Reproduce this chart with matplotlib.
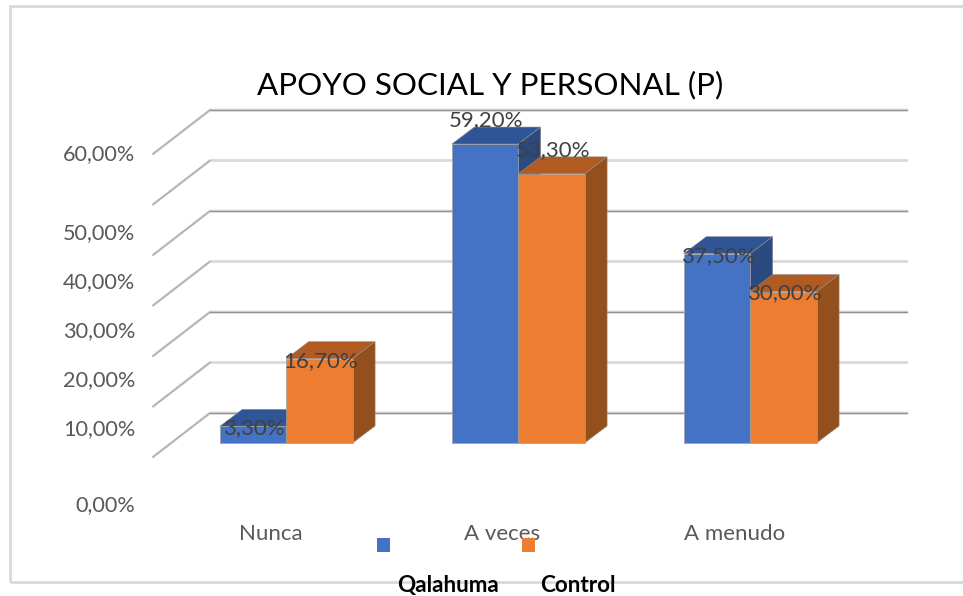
import matplotlib
matplotlib.use('Agg')
import matplotlib.pyplot as plt
from matplotlib.patches import Polygon, Rectangle

categories = ['Nunca', 'A veces', 'A menudo']
qalahuma = [3.3, 59.2, 37.5]
control = [16.7, 53.3, 30.0]
grid_values = [0, 10, 20, 30, 40, 50, 60]
tick_labels = ['0,00%', '10,00%', '20,00%', '30,00%', '40,00%', '50,00%', '60,00%']

W, H = 963, 596
PX_X = 232.0   # pixels per category
PX_Y = 5.05    # pixels per percent
X0, Y0 = 286.2, 443.0

plt.rcParams['font.family'] = ['Lato', 'DejaVu Sans']
fig = plt.figure(figsize=(W / 100, H / 100), dpi=100)
ax = fig.add_axes([0, 0, 1, 1])
ax.set_xlim(-X0 / PX_X, (W - X0) / PX_X)
ax.set_ylim(-(H - Y0) / PX_Y, Y0 / PX_Y)
ax.axis('off')


def px(x):
    return (x - X0) / PX_X


def py(y):
    return (Y0 - y) / PX_Y


# chart frame
ax.add_patch(Rectangle((px(10), py(582)), px(1100) - px(10), py(6) - py(582),
                       fill=False, ec='#d9d9d9', lw=2, zorder=1))

# gridlines on the back wall and side wall
wall_x, side_x = px(210), px(153)
wall_dy, side_dy = 30 / PX_Y, -14 / PX_Y
right_x = px(907)
for i, v in enumerate(grid_values):
    xs = [side_x, wall_x, right_x]
    ys = [v + side_dy, v + wall_dy, v + wall_dy]
    ax.plot(xs, ys, color='#d9d9d9', lw=2.0, zorder=2, solid_capstyle='round')
    if i % 2 == 0:
        ax.plot(xs[1:], ys[1:], color='#929292', lw=1.0, zorder=3)
    ax.plot(xs[:2], ys[:2], color='#a6a6a6', lw=0.8, zorder=3)

# 3D bars
bar_w = 66.4 / PX_X
depth_x, depth_y = 22.5 / PX_X, 17 / PX_Y
series = [(qalahuma, -bar_w, '#4472c4', '#2f5597', '#2a4a80'),
          (control, 0, '#ed7d31', '#b15a22', '#93501c')]
for vals, off, front, top, side in series:
    for i, v in enumerate(vals):
        x = i + off
        ax.bar(x, v, width=bar_w, align='edge', color=front, edgecolor='#a0a0a0',
               linewidth=0.5, zorder=5 + i)
        ax.add_patch(Polygon([(x, v), (x + depth_x, v + depth_y),
                              (x + bar_w + depth_x, v + depth_y), (x + bar_w, v)],
                             fc=top, ec='#909090', lw=0.4, zorder=4 + i))
        ax.add_patch(Polygon([(x + bar_w, 0), (x + bar_w + depth_x, depth_y),
                              (x + bar_w + depth_x, v + depth_y), (x + bar_w, v)],
                             fc=side, ec='#909090', lw=0.4, zorder=4 + i))

# data labels
for vals, off, raised in [(qalahuma, -bar_w / 2, [0, 1, 0]), (control, bar_w / 2, [0, 1, 0])]:
    for i, v in enumerate(vals):
        shift = 24 if raised[i] else -2
        ax.text(i + off + 0.005, v + shift / PX_Y, f'{v:.2f}%'.replace('.', ','),
                ha='center', va='center', fontsize=16, color='#404040', zorder=10)

# value axis labels sit unevenly in the reference
label_y = [505, 429, 380, 331, 282, 233, 154]
for txt, y in zip(tick_labels, label_y):
    ax.text(px(135), py(y), txt, ha='right', va='center', fontsize=15.6, color='#595959', zorder=10)

cat_x = [271, 502.5, 734.5]
for x, c in zip(cat_x, categories):
    ax.text(px(x), py(534.5), c, ha='center', va='center', fontsize=16, color='#595959', zorder=10)

ax.text(px(490), py(85), 'APOYO SOCIAL Y PERSONAL (P)', ha='center', va='center',
        fontsize=22.6, color='black', zorder=10)

# legend
for name, col, mx, tx in [('Qalahuma', '#4472c4', 383.5, 447.5), ('Control', '#ed7d31', 528.5, 578)]:
    ax.add_patch(Rectangle((px(mx - 6.5), py(552)), 13 / PX_X, 14 / PX_Y, fc=col, ec='none', zorder=11))
    ax.text(px(tx), py(592), name, ha='center', va='baseline', fontsize=16.2,
            fontweight='bold', color='black', zorder=12)

fig.savefig('out.png', dpi=100)
